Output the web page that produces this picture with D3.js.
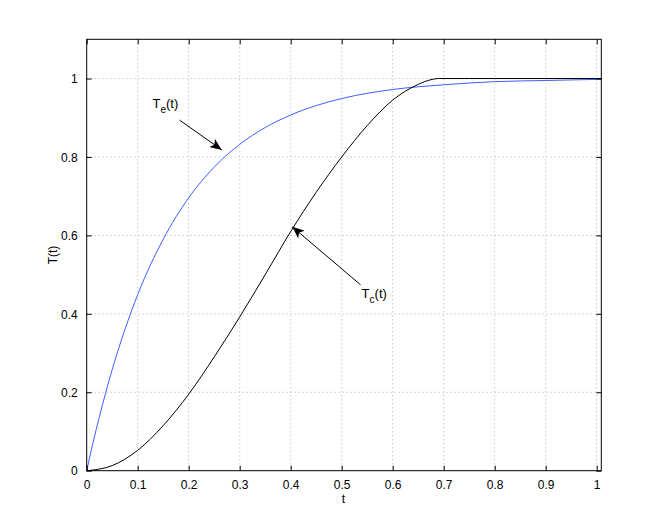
<!DOCTYPE html>
<html><head><meta charset="utf-8">
<script src="https://cdn.jsdelivr.net/npm/d3@7"></script>
<style>body{margin:0;background:#fff}svg{display:block}text{font-family:"Liberation Sans",Arial,Helvetica,sans-serif}</style>
</head><body><svg id="c" width="664" height="530"></svg>
<script>
// Values
const tTc = [0, 0.05, 0.1, 0.15, 0.2, 0.25, 0.3, 0.35, 0.4, 0.45, 0.5, 0.55, 0.6, 0.65, 0.675, 0.69, 0.75, 0.8, 0.9, 1.0, 1.01];
const Tc  = [0, 0.013, 0.052, 0.115, 0.195, 0.29, 0.392, 0.5, 0.61, 0.71, 0.80, 0.88, 0.945, 0.985, 0.997, 1.0, 1.0, 1.0, 1.0, 1.0, 1.0];
const tTe = [0, 0.0125, 0.025, 0.05, 0.075, 0.1, 0.15, 0.2, 0.25, 0.3, 0.35, 0.4, 0.45, 0.5, 0.6, 0.7, 0.8, 0.9, 1.01];
const Te  = [0, 0.072, 0.138, 0.258, 0.36, 0.449, 0.59, 0.696, 0.774, 0.832, 0.875, 0.907, 0.931, 0.949, 0.972, 0.984, 0.992, 0.995, 0.998];
const xTicks = [0, 0.1, 0.2, 0.3, 0.4, 0.5, 0.6, 0.7, 0.8, 0.9, 1];
const yTicks = [0, 0.2, 0.4, 0.6, 0.8, 1];
const xTickLabels = ["0","0.1","0.2","0.3","0.4","0.5","0.6","0.7","0.8","0.9","1"];
const yTickLabels = ["0","0.2","0.4","0.6","0.8","1"];
const annotations = [
  {main:"T", sub:"e", rest:"(t)", tx:0.129, ty:0.925, fx:0.182, fy:0.894, px:0.265, py:0.818},
  {main:"T", sub:"c", rest:"(t)", tx:0.539, ty:0.441, fx:0.537, fy:0.474, px:0.403, py:0.622}
];

const svg = d3.select("#c");
const L = 86.7, R = 601.3, T = 39.3, B = 470.7;
const x = d3.scaleLinear().domain([0, 1.009]).range([L, R]);
const y = d3.scaleLinear().domain([0, 1.1]).range([B, T]);

// grid
const g = svg.append("g");
g.selectAll(".gx").data(xTicks.slice(1)).enter().append("line")
  .attr("x1", d=>x(d)).attr("x2", d=>x(d)).attr("y1", T).attr("y2", B)
  .attr("stroke", "#b0b0b0").attr("stroke-width", 1).attr("stroke-dasharray", "1,3");
g.selectAll(".gy").data(yTicks.slice(1)).enter().append("line")
  .attr("x1", L).attr("x2", R).attr("y1", d=>y(d)).attr("y2", d=>y(d))
  .attr("stroke", "#b0b0b0").attr("stroke-width", 1).attr("stroke-dasharray", "1,3");

// curves
const line = d3.line().x(d=>x(d[0])).y(d=>y(d[1])).curve(d3.curveMonotoneX);
svg.append("path").datum(tTe.map((t,i)=>[t, Te[i]])).attr("d", line)
  .attr("fill","none").attr("stroke","#3f5eff").attr("stroke-width",1);
svg.append("path").datum(tTc.map((t,i)=>[t, Tc[i]])).attr("d", line)
  .attr("fill","none").attr("stroke","#000").attr("stroke-width",1);

// axes (MATLAB style, inward ticks on all sides)
const tl = 5;
const axB = svg.append("g").attr("transform",`translate(0,${B})`)
  .call(d3.axisBottom(x).tickValues(xTicks).tickFormat((d,i)=>xTickLabels[i]).tickSizeInner(-tl).tickSizeOuter(0).tickPadding(10));
const axT = svg.append("g").attr("transform",`translate(0,${T})`)
  .call(d3.axisTop(x).tickValues(xTicks).tickFormat("").tickSizeInner(-tl).tickSizeOuter(0));
const axL = svg.append("g").attr("transform",`translate(${L},0)`)
  .call(d3.axisLeft(y).tickValues(yTicks).tickFormat((d,i)=>yTickLabels[i]).tickSizeInner(-tl).tickSizeOuter(0).tickPadding(9));
const axR = svg.append("g").attr("transform",`translate(${R},0)`)
  .call(d3.axisRight(y).tickValues(yTicks).tickFormat("").tickSizeInner(-tl).tickSizeOuter(0));
[axB, axT, axL, axR].forEach(a=>{
  a.select(".domain").remove();
  a.selectAll("line").attr("stroke","#000");
  a.selectAll("text").attr("font-size", 12).attr("fill","#000")
   .attr("font-family",'"Liberation Sans",Arial,sans-serif');
});
axL.selectAll("text").attr("dy","0.35em");
svg.append("rect").attr("x",L).attr("y",T).attr("width",R-L).attr("height",B-T)
  .attr("fill","none").attr("stroke","#000").attr("stroke-width",1);

// axis labels
svg.append("text").attr("x", 343.5).attr("y", 503).attr("text-anchor","middle")
  .attr("font-size",12).text("t");
svg.append("text").attr("transform",`translate(57,${(T+B)/2}) rotate(-90)`)
  .attr("text-anchor","middle").attr("font-size",12).text("T(t)");

// annotations with arrows
const defs = svg.append("defs");
defs.append("marker").attr("id","ah").attr("viewBox","0 0 12 10").attr("refX",12).attr("refY",5)
  .attr("markerWidth",12).attr("markerHeight",10).attr("markerUnits","userSpaceOnUse").attr("orient","auto")
  .append("path").attr("d","M0,0 L12,5 L0,10 L3,5 Z").attr("fill","#000");
annotations.forEach(a=>{
  svg.append("line").attr("x1",x(a.fx)).attr("y1",y(a.fy)).attr("x2",x(a.px)).attr("y2",y(a.py))
    .attr("stroke","#000").attr("stroke-width",1).attr("marker-end","url(#ah)");
  const t = svg.append("text").attr("x",x(a.tx)).attr("y",y(a.ty)).attr("font-size",13);
  t.append("tspan").text(a.main);
  t.append("tspan").attr("dy",5).attr("font-size",10).text(a.sub);
  t.append("tspan").attr("dy",-5).text(a.rest);
});
</script></body></html>
